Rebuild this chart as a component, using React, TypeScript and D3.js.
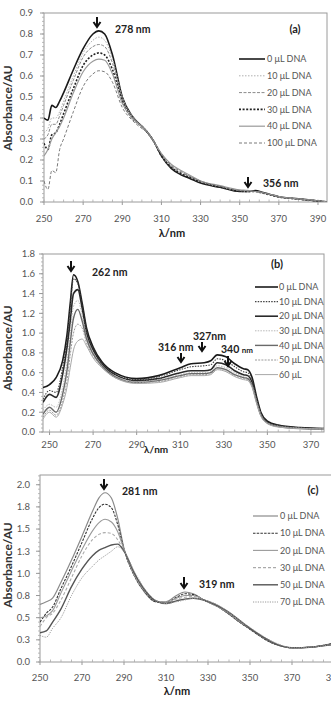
import * as d3 from "d3";

const FONT = "Lato, 'Open Sans', sans-serif";

// ---- panel (a) ----
const wlA = [250, 252, 254, 256, 258, 260, 265, 270, 275, 278, 281, 285, 290, 295, 300, 303, 306, 310, 315, 320, 325, 330, 340, 350, 354, 358, 362, 366, 370, 380, 390, 395];
const a0 = [0.40, 0.39, 0.46, 0.45, 0.48, 0.52, 0.63, 0.73, 0.80, 0.815, 0.80, 0.70, 0.50, 0.41, 0.36, 0.33, 0.29, 0.22, 0.16, 0.13, 0.11, 0.09, 0.07, 0.05, 0.05, 0.055, 0.045, 0.035, 0.025, 0.015, 0.005, 0.0];
const a10 = [0.33, 0.35, 0.40, 0.40, 0.43, 0.48, 0.60, 0.71, 0.77, 0.785, 0.77, 0.68, 0.50, 0.41, 0.36, 0.33, 0.29, 0.22, 0.165, 0.135, 0.115, 0.095, 0.072, 0.052, 0.05, 0.05, 0.042, 0.033, 0.024, 0.014, 0.005, 0.0];
const a20 = [0.30, 0.32, 0.37, 0.37, 0.41, 0.46, 0.58, 0.69, 0.74, 0.75, 0.74, 0.66, 0.49, 0.41, 0.36, 0.33, 0.29, 0.225, 0.17, 0.14, 0.12, 0.10, 0.075, 0.055, 0.05, 0.05, 0.042, 0.033, 0.024, 0.014, 0.005, 0.0];
const a30 = [0.28, 0.25, 0.32, 0.33, 0.37, 0.42, 0.54, 0.65, 0.70, 0.71, 0.70, 0.63, 0.48, 0.40, 0.36, 0.33, 0.29, 0.22, 0.165, 0.135, 0.115, 0.095, 0.072, 0.052, 0.05, 0.05, 0.042, 0.033, 0.024, 0.014, 0.005, 0.0];
const a40 = [0.22, 0.25, 0.30, 0.33, 0.36, 0.40, 0.52, 0.62, 0.67, 0.68, 0.675, 0.61, 0.47, 0.40, 0.36, 0.33, 0.29, 0.23, 0.18, 0.15, 0.125, 0.10, 0.078, 0.058, 0.055, 0.05, 0.044, 0.035, 0.026, 0.015, 0.006, 0.0];
const a100 = [0.10, 0.06, 0.15, 0.14, 0.25, 0.30, 0.43, 0.55, 0.61, 0.625, 0.62, 0.57, 0.45, 0.39, 0.35, 0.33, 0.29, 0.23, 0.175, 0.145, 0.12, 0.10, 0.075, 0.055, 0.052, 0.05, 0.043, 0.034, 0.025, 0.015, 0.006, 0.0];
const labelsA = ["0 μL DNA", "10 μL DNA", "20 μL DNA", "30 μL DNA", "40 μL DNA", "100 μL DNA"];

// ---- panel (b) ----
const wlB = [247, 250, 253, 256, 258, 259.5, 261, 263, 265, 267, 270, 274, 280, 290, 300, 310, 315, 321, 324, 327, 331, 335, 339, 341, 343, 345, 347, 350, 355, 365, 376];
const b0 = [0.45, 0.48, 0.55, 0.72, 0.98, 1.30, 1.59, 1.52, 1.30, 1.05, 0.86, 0.71, 0.60, 0.54, 0.57, 0.65, 0.69, 0.70, 0.72, 0.78, 0.76, 0.69, 0.64, 0.63, 0.55, 0.36, 0.20, 0.11, 0.07, 0.045, 0.035];
const b10 = [0.33, 0.42, 0.40, 0.65, 0.92, 1.25, 1.55, 1.50, 1.28, 1.03, 0.85, 0.70, 0.59, 0.53, 0.56, 0.63, 0.66, 0.67, 0.68, 0.74, 0.72, 0.66, 0.61, 0.60, 0.52, 0.34, 0.19, 0.10, 0.065, 0.04, 0.03];
const b20 = [0.30, 0.38, 0.35, 0.58, 0.85, 1.12, 1.40, 1.44, 1.25, 1.00, 0.83, 0.69, 0.58, 0.52, 0.54, 0.60, 0.62, 0.62, 0.63, 0.70, 0.68, 0.62, 0.58, 0.57, 0.50, 0.33, 0.18, 0.10, 0.06, 0.04, 0.03];
const b30 = [0.22, 0.28, 0.25, 0.45, 0.72, 1.00, 1.27, 1.33, 1.18, 0.97, 0.81, 0.68, 0.57, 0.51, 0.53, 0.58, 0.60, 0.60, 0.61, 0.67, 0.65, 0.60, 0.56, 0.55, 0.48, 0.32, 0.18, 0.095, 0.06, 0.04, 0.03];
const b40 = [0.18, 0.25, 0.20, 0.38, 0.62, 0.90, 1.15, 1.24, 1.12, 0.94, 0.79, 0.67, 0.56, 0.50, 0.52, 0.57, 0.59, 0.59, 0.60, 0.65, 0.63, 0.58, 0.55, 0.54, 0.47, 0.31, 0.17, 0.09, 0.055, 0.035, 0.03];
const b50 = [0.15, 0.22, 0.17, 0.32, 0.52, 0.78, 1.00, 1.09, 1.05, 0.90, 0.77, 0.66, 0.55, 0.50, 0.51, 0.56, 0.58, 0.58, 0.59, 0.64, 0.62, 0.57, 0.54, 0.53, 0.46, 0.30, 0.17, 0.09, 0.055, 0.035, 0.03];
const b60 = [0.13, 0.20, 0.15, 0.28, 0.45, 0.65, 0.83, 0.92, 0.94, 0.87, 0.75, 0.65, 0.55, 0.49, 0.50, 0.55, 0.57, 0.57, 0.58, 0.63, 0.61, 0.56, 0.53, 0.52, 0.45, 0.29, 0.16, 0.085, 0.05, 0.035, 0.03];
const labelsB = ["0 μL DNA", "10 μL DNA", "20 μL DNA", "30 μL DNA", "40 μL DNA", "50 μL DNA", "60 μL"];

// ---- panel (c) ----
const wlC = [250, 253, 256, 260, 265, 270, 275, 278, 281, 284, 287, 290, 295, 300, 305, 310, 315, 319, 323, 328, 335, 340, 345, 350, 355, 360, 365, 370, 380, 390, 400];
const c0 = [0.65, 0.68, 0.72, 0.90, 1.15, 1.42, 1.70, 1.85, 1.91, 1.85, 1.62, 1.28, 0.97, 0.78, 0.68, 0.68, 0.75, 0.79, 0.77, 0.70, 0.62, 0.54, 0.45, 0.37, 0.29, 0.22, 0.18, 0.16, 0.17, 0.21, 0.24];
const c10 = [0.45, 0.55, 0.62, 0.83, 1.08, 1.35, 1.62, 1.74, 1.78, 1.74, 1.55, 1.27, 0.97, 0.79, 0.68, 0.67, 0.73, 0.77, 0.76, 0.70, 0.62, 0.54, 0.45, 0.37, 0.29, 0.22, 0.18, 0.16, 0.17, 0.21, 0.24];
const c20 = [0.50, 0.52, 0.58, 0.78, 1.03, 1.27, 1.48, 1.57, 1.61, 1.58, 1.47, 1.27, 0.98, 0.80, 0.69, 0.67, 0.72, 0.75, 0.75, 0.70, 0.62, 0.55, 0.46, 0.38, 0.30, 0.23, 0.18, 0.16, 0.17, 0.20, 0.24];
const c30 = [0.40, 0.50, 0.55, 0.70, 0.95, 1.20, 1.38, 1.44, 1.46, 1.45, 1.38, 1.25, 0.98, 0.80, 0.69, 0.67, 0.71, 0.73, 0.74, 0.70, 0.63, 0.55, 0.46, 0.38, 0.30, 0.23, 0.18, 0.16, 0.17, 0.20, 0.24];
const c50 = [0.33, 0.35, 0.45, 0.60, 0.85, 1.05, 1.20, 1.26, 1.29, 1.32, 1.33, 1.25, 1.00, 0.81, 0.69, 0.66, 0.69, 0.71, 0.72, 0.70, 0.63, 0.56, 0.47, 0.38, 0.30, 0.23, 0.18, 0.16, 0.17, 0.20, 0.23];
const c70 = [0.30, 0.28, 0.38, 0.50, 0.75, 0.95, 1.08, 1.15, 1.20, 1.25, 1.30, 1.25, 1.02, 0.82, 0.70, 0.66, 0.68, 0.70, 0.72, 0.70, 0.64, 0.56, 0.47, 0.39, 0.31, 0.24, 0.19, 0.16, 0.17, 0.20, 0.23];
const labelsC = ["0 μL DNA", "10 μL DNA", "20 μL DNA", "30 μL DNA", "50 μL DNA", "70 μL DNA"];

const xTicks = [250, 270, 290, 310, 330, 350, 370, 390];

type Style = { color: string; width: number; dash?: string };

const stylesA: Style[] = [
  { color: "#1a1a1a", width: 1.6 },
  { color: "#b0b0b0", width: 1, dash: "1.5,1.5" },
  { color: "#8a8a8a", width: 1, dash: "3,1.5" },
  { color: "#222", width: 1.6, dash: "2,1.6" },
  { color: "#9a9a9a", width: 1.2 },
  { color: "#7a7a7a", width: 1, dash: "3,2" },
];
const stylesB: Style[] = [
  { color: "#1a1a1a", width: 1.6 },
  { color: "#444", width: 1.1, dash: "1.5,1.2" },
  { color: "#2a2a2a", width: 1.6 },
  { color: "#b8b8b8", width: 1, dash: "1.5,1.2" },
  { color: "#6a6a6a", width: 1.4 },
  { color: "#9a9a9a", width: 1, dash: "2,1.2" },
  { color: "#a8a8a8", width: 1 },
];
const stylesC: Style[] = [
  { color: "#8a8a8a", width: 1.2 },
  { color: "#333", width: 1.1, dash: "2.5,1.2" },
  { color: "#999", width: 1.1 },
  { color: "#aaa", width: 1.1, dash: "3,2" },
  { color: "#555", width: 1.4 },
  { color: "#9a9a9a", width: 1, dash: "1.2,1.2" },
];

const Arrow = ({ x, y0, y1 }: { x: number; y0: number; y1: number }) => (
  <path
    d={`M${x},${y0}L${x},${y1}M${x - 3.5},${y1 - 5}L${x},${y1}L${x + 3.5},${y1 - 5}`}
    fill="none"
    stroke="#111"
    strokeWidth={2}
  />
);

type PanelProps = {
  id: string;
  wl: number[];
  series: number[][];
  styles: Style[];
  labels: string[];
  xDomain: [number, number];
  xRange: [number, number];
  yDomain: [number, number];
  yRange: [number, number];
  yTicks: number[];
  yMinor: number;
  yLabelX: number;
  legend: { x0: number; x1: number; tx: number; y: number; step: number };
  xLabelY: number;
  yTitleY: number;
  children?: any;
};

const Panel = (p: PanelProps) => {
  const x = d3.scaleLinear(p.xDomain, p.xRange);
  const y = d3.scaleLinear(p.yDomain, p.yRange);
  const line = d3
    .line<number>()
    .x((_, i) => x(p.wl[i]))
    .y((d) => y(d))
    .curve(d3.curveMonotoneX);
  const [left, right] = p.xRange;
  const [bottom, top] = p.yRange;
  const yMinorTicks = d3.range(p.yDomain[0], p.yDomain[1] + 1e-9, p.yMinor);
  const xMinorTicks = d3.range(Math.ceil(p.xDomain[0] / 5) * 5, p.xDomain[1], 5);
  const ticks = xTicks.filter((t) => t <= p.xDomain[1]);
  const fmt = d3.format(".1f");
  return (
    <g>
      <clipPath id={`clip-${p.id}`}>
        <rect x={left} y={top} width={right - left} height={bottom - top} />
      </clipPath>
      <rect x={left} y={top} width={right - left} height={bottom - top} fill="none" stroke="#9a9a9a" strokeWidth={1} />
      {yMinorTicks.map((t, i) => (
        <line key={`ym${i}`} x1={left - 2} x2={left} y1={y(t)} y2={y(t)} stroke="#aaa" strokeWidth={0.8} />
      ))}
      {p.yTicks.map((t) => (
        <g key={`y${t}`}>
          <line x1={left - 4} x2={left} y1={y(t)} y2={y(t)} stroke="#999" />
          <text x={p.yLabelX} y={y(t) + 3.3} textAnchor="end" fontSize={9.5} fill="#555" fontFamily={FONT}>
            {fmt(t)}
          </text>
        </g>
      ))}
      {xMinorTicks.map((t) => (
        <line key={`xm${t}`} x1={x(t)} x2={x(t)} y1={bottom} y2={bottom - 2.5} stroke="#aaa" strokeWidth={0.8} />
      ))}
      {ticks.map((t) => (
        <g key={`x${t}`}>
          <line x1={x(t)} x2={x(t)} y1={bottom} y2={bottom + 3} stroke="#999" />
          <text x={x(t)} y={p.xLabelY} textAnchor="middle" fontSize={9.5} fill="#555" fontFamily={FONT}>
            {t}
          </text>
        </g>
      ))}
      <g clipPath={`url(#clip-${p.id})`}>
        {p.series.map((s, i) => (
          <path
            key={i}
            d={line(s) ?? ""}
            fill="none"
            stroke={p.styles[i].color}
            strokeWidth={p.styles[i].width}
            strokeDasharray={p.styles[i].dash}
          />
        ))}
      </g>
      {p.labels.map((l, i) => {
        const ly = p.legend.y + i * p.legend.step;
        const st = p.styles[i];
        return (
          <g key={l}>
            <line x1={p.legend.x0} x2={p.legend.x1} y1={ly} y2={ly} stroke={st.color} strokeWidth={st.width} strokeDasharray={st.dash} />
            <text x={p.legend.tx} y={ly + 3.2} fontSize={9} fill="#555" fontFamily={FONT}>
              {l}
            </text>
          </g>
        );
      })}
      <text
        transform={`translate(12,${p.yTitleY}) rotate(-90)`}
        textAnchor="middle"
        fontSize={12}
        fontWeight="bold"
        fill="#333"
        fontFamily={FONT}
      >
        Absorbance/AU
      </text>
      {p.children}
    </g>
  );
};

const labelStyle = { fontFamily: FONT, fontWeight: "bold" as const, fill: "#222" };

export default function App() {
  return (
    <svg width={331} height={704} style={{ position: "absolute", left: 0, top: 0, background: "#fff" }}>
      <rect width={331} height={704} fill="#fff" />
      <Panel
        id="a"
        wl={wlA}
        series={[a0, a10, a20, a30, a40, a100]}
        styles={stylesA}
        labels={labelsA}
        xDomain={[250, 394.6]}
        xRange={[44, 327]}
        yDomain={[0, 0.9]}
        yRange={[202, 13]}
        yTicks={d3.range(0, 0.91, 0.1)}
        yMinor={0.02}
        yLabelX={33}
        legend={{ x0: 239, x1: 265, tx: 267, y: 59, step: 16.8 }}
        xLabelY={222}
        yTitleY={108}
      >
        <Arrow x={97} y0={17} y1={27} />
        <text x={115} y={33} fontSize={10.5} {...labelStyle}>278 nm</text>
        <text x={295} y={33} fontSize={11} textAnchor="middle" {...labelStyle}>(a)</text>
        <Arrow x={248} y0={177} y1={187} />
        <text x={263} y={187} fontSize={10.5} {...labelStyle}>356 nm</text>
        <text x={172} y={237} fontSize={11} textAnchor="middle" {...labelStyle}>λ/nm</text>
      </Panel>
      <Panel
        id="b"
        wl={wlB}
        series={[b0, b10, b20, b30, b40, b50, b60]}
        styles={stylesB}
        labels={labelsB}
        xDomain={[247, 376]}
        xRange={[43, 324]}
        yDomain={[0, 1.8]}
        yRange={[432, 254]}
        yTicks={d3.range(0, 1.81, 0.2)}
        yMinor={0.04}
        yLabelX={35}
        legend={{ x0: 255, x1: 278, tx: 279, y: 287, step: 14.6 }}
        xLabelY={448}
        yTitleY={348}
      >
        <Arrow x={71} y0={261} y1={271} />
        <text x={92} y={276} fontSize={10.5} {...labelStyle}>262 nm</text>
        <text x={277} y={268} fontSize={11} textAnchor="middle" {...labelStyle}>(b)</text>
        <Arrow x={181} y0={353} y1={362} />
        <text x={158} y={351} fontSize={10.5} {...labelStyle}>316 nm</text>
        <Arrow x={202} y0={342} y1={351} />
        <text x={193} y={340} fontSize={10.5} {...labelStyle}>327nm</text>
        <Arrow x={228} y0={356} y1={366} />
        <text x={221} y={353} fontSize={10.5} {...labelStyle}>
          340 <tspan fontSize={8}>nm</tspan>
        </text>
        <text x={144} y={453} fontSize={10} {...labelStyle}>λ/nm</text>
      </Panel>
      <Panel
        id="c"
        wl={wlC}
        series={[c0, c10, c20, c30, c50, c70]}
        styles={stylesC}
        labels={labelsC}
        xDomain={[250, 400]}
        xRange={[40, 355]}
        yDomain={[0, 2.11]}
        yRange={[662, 475]}
        yTicks={d3.range(0, 2.01, 0.25)}
        yMinor={0.05}
        yLabelX={30}
        legend={{ x0: 253, x1: 278, tx: 280, y: 516, step: 17.2 }}
        xLabelY={681}
        yTitleY={565}
      >
        <Arrow x={104} y0={479} y1={489} />
        <text x={122} y={495} fontSize={10.5} {...labelStyle}>281 nm</text>
        <text x={313} y={494} fontSize={11} textAnchor="middle" {...labelStyle}>(c)</text>
        <Arrow x={184} y0={577} y1={588} />
        <text x={199} y={588} fontSize={10.5} {...labelStyle}>319 nm</text>
        <text x={177} y={695} fontSize={11} textAnchor="middle" {...labelStyle}>λ/nm</text>
      </Panel>
    </svg>
  );
}
